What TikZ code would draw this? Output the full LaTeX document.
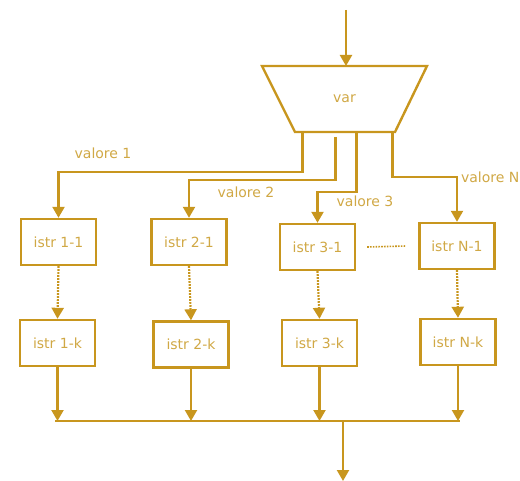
\documentclass[tikz,border=0pt]{standalone}
\usepackage{fontspec}
\setsansfont{DejaVu Sans}
\usepackage{tikz}
\usetikzlibrary{arrows.meta,positioning,calc}
\definecolor{flowGold}{HTML}{C8961E}
\definecolor{flowText}{HTML}{D0A845}

\begin{document}
\begin{tikzpicture}[x=1pt, y=-1pt, font=\sffamily\fontsize{14}{16}\selectfont,
  color=flowGold, text=flowText, line width=2.2pt,
  istr/.style={draw=flowGold, line width=2.4pt, minimum width=75pt, minimum height=46pt, inner sep=0pt},
  sel/.style={line width=2.4pt, line join=miter},
  link/.style={-{Triangle[length=11pt,width=12pt]}},
  dotlink/.style={link, dash pattern=on 1.6pt off 1.4pt},
  dotline/.style={line width=1.6pt, dash pattern=on 1.6pt off 1.2pt}]
\useasboundingbox (0,0) rectangle (520,481);
\coordinate (selTL) at (262,66);
\coordinate (selTR) at (427,66);
\coordinate (selBR) at (395,132);
\coordinate (selBL) at (295,132);
\coordinate (selB) at (344.5,132);
\draw[sel] (selTL) -- (selTR) -- (selBR) -- (selBL) -- cycle;
\node (var) at (344.5,99) {var};
\node[istr] (b11) at (58.5,242) {istr 1-1};
\node[istr] (b21) at (189,242) {istr 2-1};
\node[istr] (b31) at (317.5,247) {istr 3-1};
\node[istr] (bN1) at (457,246) {istr N-1};
\node[istr] (b1k) at (57.5,343) {istr 1-k};
\node[istr] (b2k) at (191,344.5) {istr 2-k};
\node[istr] (b3k) at (319.5,343) {istr 3-k};
\node[istr] (bNk) at (458,342) {istr N-k};
\node (v1) at (103,153) {valore 1};
\node (v2) at (246,192) {valore 2};
\node (v3) at (365,201) {valore 3};
\node[anchor=west, inner sep=0pt] (vN) at (460,177) {valore N};
\coordinate (in) at (346,10);
\coordinate (busL) at (55,421);
\coordinate (busR) at (460,421);
\coordinate (out) at (343,481);
\draw[link] (in) -- (in |- selTL);
\draw[link] ([xshift=-42pt]selB) -- ++(0,40) -| (b11.north);
\draw[link] ([xshift=-9pt,yshift=-5pt]selB) -- ++(0,43) -| (b21.north);
\draw[link] ([xshift=12pt]selB) -- ++(0,60) -| (b31.north);
\draw[link] ([xshift=48pt]selB) -- ++(0,45) -| (bN1.north);
\draw[dotlink] (b11.south) -- (b1k.north);
\draw[dotlink] (b21.south) -- (b2k.north);
\draw[dotlink] (b31.south) -- (b3k.north);
\draw[dotlink] (bN1.south) -- (bNk.north);
\draw[dotline] ([xshift=11pt]b31.east) -- ([xshift=-12pt]bN1.west);
\draw (busL) -- (busR);
\draw[link] (b1k.south) -- (b1k.south |- busL);
\draw[link] (b2k.south) -- (b2k.south |- busL);
\draw[link] (b3k.south) -- (b3k.south |- busL);
\draw[link] (bNk.south) -- (bNk.south |- busL);
\draw[link] (out |- busL) -- (out);
\end{tikzpicture}
\end{document}
